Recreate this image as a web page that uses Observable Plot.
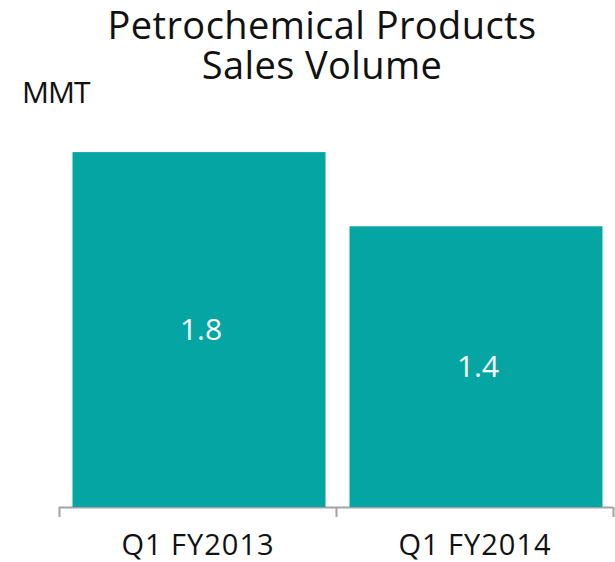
<!DOCTYPE html>
<html>
<head>
<meta charset="utf-8">
<script src="https://cdn.jsdelivr.net/npm/d3@7"></script>
<script src="https://cdn.jsdelivr.net/npm/@observablehq/plot@0.6"></script>
<style>
  html, body { margin: 0; padding: 0; background: #ffffff; }
  #wrap { position: relative; width: 615px; height: 562px; overflow: hidden; font-family: "Open Sans", Lato, sans-serif; }
  #header { position: relative; width: 615px; height: 106px; }
  .tline { position: absolute; left: 29px; right: 0; text-align: center; font-size: 38px; line-height: 38px; letter-spacing: 0.4px; color: #111; white-space: nowrap; }
  #t1 { top: 5px; }
  #t2 { top: 45px; }
  #unit { position: absolute; left: 22px; top: 77px; font-size: 30px; line-height: 30px; letter-spacing: -1px; color: #111; z-index: 2; }
  #chart svg { display: block; }
  #chart g[aria-label="x-axis tick label"] { letter-spacing: 1px; }
</style>
</head>
<body>
<div id="wrap">
  <div id="header">
    <div class="tline" id="t1">Petrochemical Products</div>
    <div class="tline" id="t2">Sales Volume</div>
    <div id="unit">MMT</div>
  </div>
  <div id="chart"></div>
</div>
<script>
const categories = ["Q1 FY2013", "Q1 FY2014"];
const values = [1.77, 1.40];

const data = categories.map((c, i) => ({category: c, index: i, value: values[i]}));
const teal = "#05a5a4";
const gray = "#a3a3a3";

const chart = Plot.plot({
  width: 615,
  height: 456,
  marginLeft: 59,
  marginRight: 2,
  marginTop: 0,
  marginBottom: 55,
  style: {background: "transparent", overflow: "visible", fontFamily: "'Open Sans', Lato, sans-serif"},
  x: {type: "linear", domain: [0, categories.length], axis: null, label: null},
  y: {domain: [0, 2], axis: null},
  marks: [
    Plot.ruleY([0], {stroke: gray, strokeWidth: 2}),
    Plot.axisX(d3.range(categories.length + 1), {tickSize: 10, tickFormat: () => "", stroke: gray, strokeWidth: 2, strokeOpacity: 1, label: null}),
    Plot.rectY(data, {x1: "index", x2: d => d.index + 1, y: "value", fill: teal, insetLeft: 13.5, insetRight: 10.5}),
    Plot.axisX(data.map(d => d.index + 0.5), {tickSize: 0, tickPadding: 27, tickFormat: (d) => categories[Math.floor(d)], fontSize: 29, fill: "#111", label: null}),
    Plot.text(data, {x: d => d.index + 0.5, y: d => d.value / 2, text: d => d3.format(".1f")(d.value), fill: "white", fontSize: 30, dx: 3})
  ]
});
document.getElementById("chart").appendChild(chart);
</script>
</body>
</html>
